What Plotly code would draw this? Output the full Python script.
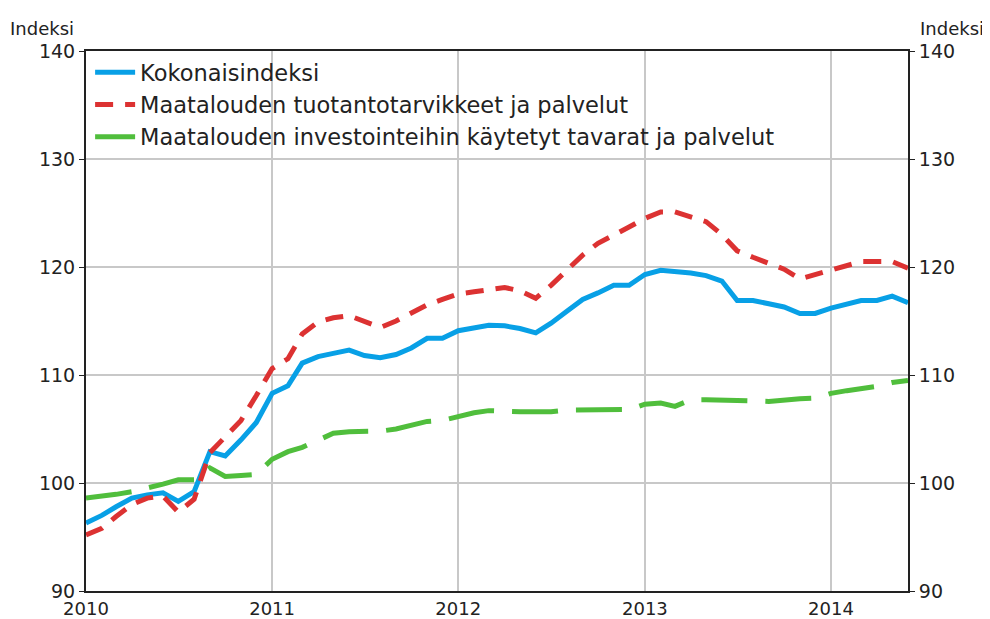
import plotly.graph_objects as go
import pandas as pd

dates = pd.date_range("2010-01-01", periods=54, freq="MS")

koko = [96.3, 97.0, 97.8, 98.6, 98.9, 99.1, 98.3, 99.2, 102.9, 102.5,
        104.0, 105.6, 108.3, 109.0, 111.1, 111.7, 112.0, 112.3, 111.8, 111.6,
        111.9, 112.5, 113.4, 113.4, 114.1, 114.4, 114.6, 114.55, 114.3, 113.9,
        114.8, 115.9, 117.0, 117.6, 118.3, 118.3, 119.3, 119.7, 119.6, 119.45,
        119.2, 118.7, 116.9, 116.9, 116.6, 116.3, 115.7, 115.7, 116.2, 116.6,
        116.9, 116.9, 117.3, 116.7]

tuotanto = [95.2, 95.8, 96.9, 98.0, 98.6, 98.8, 97.3, 98.5, 102.8, 104.2,
            105.8, 108.1, 110.6, 111.5, 113.8, 114.9, 115.3, 115.5, 114.9, 114.4,
            115.0, 115.7, 116.5, 117.0, 117.5, 117.7, 117.9, 118.1, 117.8, 117.1,
            118.3, 119.7, 121.1, 122.2, 122.9, 123.7, 124.5, 125.1, 125.1, 124.7,
            124.2, 123.0, 121.5, 120.9, 120.3, 119.8, 118.9, 119.3, 119.7, 120.1,
            120.5, 120.5, 120.5, 119.9]

investointi = [98.6, 98.75, 98.95, 99.2, 99.5, 99.9, 100.3, 100.3, 101.4, 100.6,
               100.7, 100.8, 102.2, 102.9, 103.3, 104.0, 104.6, 104.75, 104.75, 104.8,
               105.0, 105.4, 105.7, 105.8, 106.2, 106.5, 106.7, 106.6, 106.6, 106.6,
               106.6, 106.75, 106.75, 106.75, 106.8, 106.8, 107.3, 107.4, 107.1, 107.7,
               107.7, 107.7, 107.7, 107.6, 107.55, 107.7, 107.8, 107.85, 108.3, 108.55,
               108.7, 108.95, 109.3, 109.5]

names = ["Kokonaisindeksi",
         "Maatalouden tuotantotarvikkeet ja palvelut",
         "Maatalouden investointeihin käytetyt tavarat ja palvelut"]
tickvals_y = [90, 100, 110, 120, 130, 140]
year_ticks = ["2010", "2011", "2012", "2013", "2014"]

BLUE = "#08A0E6"
RED = "#DC3232"
GREEN = "#50BE3C"
FONT = "DejaVu Sans"
TXT = "#222222"

fig = go.Figure()
fig.add_trace(go.Scatter(x=dates, y=koko, name=names[0], mode="lines",
                         line=dict(color=BLUE, width=5)))
fig.add_trace(go.Scatter(x=dates, y=tuotanto, name=names[1], mode="lines",
                         line=dict(color=RED, width=5, dash="18px,12px")))
fig.add_trace(go.Scatter(x=dates, y=investointi, name=names[2], mode="lines",
                         line=dict(color=GREEN, width=5, dash="46px,18px"),
                         showlegend=False))
# legend entry for the green series (solid in legend)
fig.add_trace(go.Scatter(x=[dates[0]], y=[None], name=names[2], mode="lines",
                         line=dict(color=GREEN, width=5), yaxis="y2"))

fig.update_layout(
    width=982, height=611,
    margin=dict(l=78, r=82, t=43, b=28, autoexpand=False),
    paper_bgcolor="white", plot_bgcolor="white",
    font=dict(family=FONT, size=18, color=TXT),
    showlegend=True,
    legend=dict(x=0.005, y=1.0, xanchor="left", yanchor="top",
                bgcolor="rgba(0,0,0,0)", font=dict(size=22.5, family=FONT, color=TXT),
                tracegroupgap=0, itemwidth=40),
    xaxis=dict(type="date",
               range=[dates[0], dates[-1]],
               tickvals=[pd.Timestamp(f"{y}-01-01") for y in year_ticks],
               ticktext=year_ticks,
               showgrid=True, gridcolor="#C8C8C8", gridwidth=1.5,
               showline=True, linecolor="#222222", linewidth=2, mirror=True,
               ticks="", tickfont=dict(size=18), zeroline=False, automargin=False),
    yaxis=dict(range=[90, 140], tickvals=tickvals_y,
               showgrid=True, gridcolor="#C8C8C8", gridwidth=1.5,
               showline=True, linecolor="#222222", linewidth=2,
               ticks="outside", ticklen=5, tickcolor="#222222",
               tickfont=dict(size=19), zeroline=False, automargin=False),
    yaxis2=dict(range=[90, 140], tickvals=tickvals_y, overlaying="y", side="right",
                showgrid=False, showline=True, linecolor="#222222", linewidth=2,
                ticks="outside", ticklen=5, tickcolor="#222222",
                tickfont=dict(size=19), zeroline=False, automargin=False),
    annotations=[
        dict(text="Indeksi", xref="paper", yref="paper", x=0, y=1,
             xanchor="left", yanchor="bottom", xshift=-78, yshift=10,
             showarrow=False, font=dict(size=18, family=FONT, color=TXT)),
        dict(text="Indeksi", xref="paper", yref="paper", x=1, y=1,
             xanchor="left", yanchor="bottom", xshift=10, yshift=10,
             showarrow=False, font=dict(size=18, family=FONT, color=TXT)),
    ],
)

fig.write_html("out.html")
